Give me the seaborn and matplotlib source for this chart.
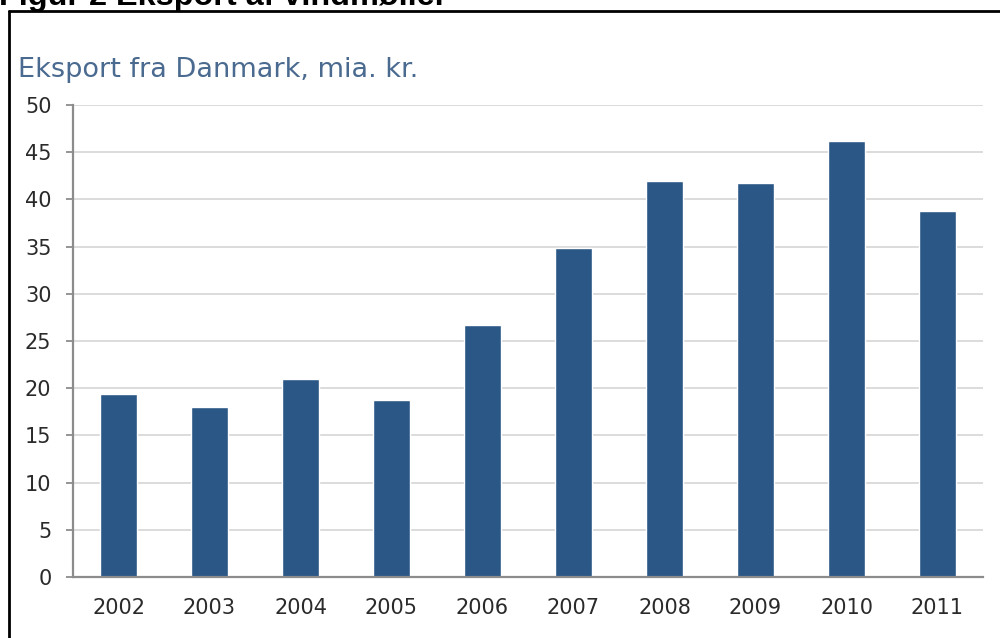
import matplotlib
matplotlib.use("Agg")
import pandas as pd
import seaborn as sns
import matplotlib.pyplot as plt
from matplotlib.lines import Line2D

# values
years = ["2002", "2003", "2004", "2005", "2006", "2007", "2008", "2009", "2010", "2011"]
eksport = [19.4, 18.0, 21.0, 18.8, 26.7, 34.9, 42.0, 41.7, 46.2, 38.8]
y_ticks = [0, 5, 10, 15, 20, 25, 30, 35, 40, 45, 50]

df = pd.DataFrame({"aar": years, "eksport": eksport})

sns.set_style("white")
plt.rcParams['font.family'] = ['DejaVu Sans']

bar_color = "#2B5787"
axis_color = "#8C8C8C"
grid_color = "#D9D9D9"

fig = plt.figure(figsize=(10, 6.38), dpi=100)
ax = fig.add_axes([0.073, 1 - 577 / 638, 0.91, (577 - 105) / 638])

sns.barplot(data=df, x="aar", y="eksport", color=bar_color, width=0.41,
            saturation=1, ax=ax)

ax.set_xlim(-0.5, len(years) - 0.5)
ax.set_ylim(0, 50)
ax.set_yticks(y_ticks)
ax.yaxis.grid(True, color=grid_color, lw=1.3)
ax.set_axisbelow(True)
ax.set_xlabel("")
ax.set_ylabel("")

for side in ["top", "right"]:
    ax.spines[side].set_visible(False)
for side in ["left", "bottom"]:
    ax.spines[side].set_color(axis_color)
    ax.spines[side].set_linewidth(1.6)

# tick marks between the categories, labels at the centres
ax.set_xticks([i - 0.5 for i in range(len(years) + 1)], minor=True)
ax.tick_params(axis="x", which="major", length=0, pad=15, labelsize=15, labelcolor="#2a2a2a")
ax.tick_params(axis="x", which="minor", length=6, width=1.3, color=axis_color, direction="out")
ax.tick_params(axis="y", which="major", length=5, width=1.3, color=axis_color, direction="out",
               left=True, pad=10.5, labelsize=15, labelcolor="#2a2a2a")

fig.text(0.018, 1 - 76.7 / 638, "Eksport fra Danmark, mia. kr.", fontsize=19.5,
         color="#4A6A90", va="baseline", ha="left")

fig.text(-0.001, 1 - 4.5 / 638, "Figur 2 Eksport af vindmøller", fontsize=23.3,
         fontweight="bold", family=["Liberation Sans", "DejaVu Sans"],
         va="baseline", ha="left", color="black")

# frame around the figure box (cropped at right and bottom)
fig.add_artist(Line2D([0.0087, 1.0], [1 - 10.7 / 638] * 2, transform=fig.transFigure,
                      color="black", lw=2.0))
fig.add_artist(Line2D([0.0087] * 2, [0.0, 1 - 10.7 / 638], transform=fig.transFigure,
                      color="black", lw=2.0))

fig.savefig("out.png", dpi=100)
